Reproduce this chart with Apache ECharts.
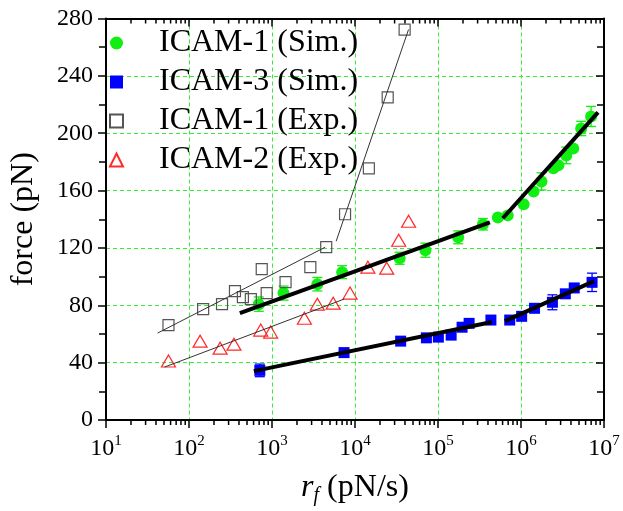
<!DOCTYPE html>
<html>
<head>
<meta charset="utf-8">
<script src="https://cdn.jsdelivr.net/npm/echarts@6/dist/echarts.min.js"></script>
<style>
html,body{margin:0;padding:0;background:#fff;}
#chart{width:623px;height:511px;}
</style>
</head>
<body>
<div id="chart"></div>
<script>
// ---- data ----
var simX1 = [693, 1377, 3515, 7000, 34500, 70500, 175000, 348000, 526000, 692000, 1076000, 1417000, 1765000, 2456000, 2818000, 3513000, 4260000, 5310000, 6990000];
var simY1 = [80.8, 88.5, 94.7, 103.1, 112.8, 118.4, 127.4, 136.5, 141.3, 142.7, 150.4, 159.4, 166.4, 175.5, 177.6, 184.5, 189.4, 203.3, 211.7];
var simE1 = [5, 4.9, 4.7, 4.5, 4.2, 4.9, 4.5, 4, 0, 0, 0, 0, 6, 0, 0, 5.8, 0, 5, 7];

var simX3 = [713, 7380, 35500, 72500, 101000, 144000, 195000, 237000, 434000, 731000, 1018000, 1456000, 2390000, 3420000, 4380000, 7180000];
var simY3 = [34.6, 47.0, 55.0, 57.3, 57.8, 59.2, 64.7, 67.4, 69.7, 69.7, 72.3, 77.9, 82.1, 88.0, 92.1, 96.0];
var simE3 = [4.4, 0, 0, 0, 0, 0, 0, 0, 0, 0, 0, 0, 5.2, 0, 0, 6.4];

var expX1 = [56.6, 148, 250, 358, 446, 556, 752, 863, 1456, 2896, 4500, 7590, 14690, 24770, 39620];
var expY1 = [66.2, 77.3, 80.8, 89.9, 85.7, 84.3, 105.2, 88.5, 96.1, 106.6, 120.5, 143.5, 175.5, 225, 272.3];

var expX2 = [56.6, 136, 237, 348, 732, 963, 2455, 3515, 5460, 8710, 14290, 24100, 33600, 44200];
var expY2 = [41.1, 55, 50.1, 52.9, 62.7, 61.3, 71, 80.8, 81.5, 88.5, 106.6, 105.9, 125.4, 138.6];

// fitted guide lines (end points)
var fitExp1aX = [41.8, 4375],   fitExp1aY = [60.6, 120.5];
var fitExp1bX = [5930, 44150],  fitExp1bY = [124.7, 272.3];
var fitExp2X  = [50.7, 7380],   fitExp2Y  = [36.9, 84.3];
var fitSim1aX = [410, 422000],  fitSim1aY = [74.5, 137.9];
var fitSim1bX = [604000, 8470000], fitSim1bY = [140.7, 214.5];
var fitSim3aX = [604, 446000],  fitSim3aY = [34.1, 68.3];
var fitSim3bX = [638000, 7590000], fitSim3bY = [69.0, 96.8];

var seriesNames = ['ICAM-1 (Sim.)', 'ICAM-3 (Sim.)', 'ICAM-1 (Exp.)', 'ICAM-2 (Exp.)'];
var yTicks = [0, 40, 80, 120, 160, 200, 240, 280];
var xDecades = [1, 2, 3, 4, 5, 6, 7];
var minorMult = [2, 3, 4, 5, 6, 7, 8, 9];

// ---- helpers ----
function zip(xs, ys) { return xs.map(function (x, i) { return [x, ys[i]]; }); }
function errData(xs, ys, es) {
  var out = [];
  xs.forEach(function (x, i) { if (es[i] > 0) out.push([x, ys[i] - es[i], ys[i] + es[i]]); });
  return out;
}
var minorTicks = [];
xDecades.slice(0, -1).forEach(function (d) {
  minorMult.forEach(function (m) { minorTicks.push([m * Math.pow(10, d), 0]); });
});

var FONT = '"Liberation Serif", "Times New Roman", serif';
var GRIDC = '#33ee33';

function errSeries(data, color) {
  return {
    type: 'custom', xAxisIndex: 0, yAxisIndex: 0, z: 4, silent: true,
    data: data,
    renderItem: function (params, api) {
      var lo = api.coord([api.value(0), api.value(1)]);
      var hi = api.coord([api.value(0), api.value(2)]);
      var w = 5;
      var st = { stroke: color, lineWidth: 1.3 };
      return { type: 'group', children: [
        { type: 'line', shape: { x1: lo[0], y1: lo[1], x2: hi[0], y2: hi[1] }, style: st },
        { type: 'line', shape: { x1: lo[0] - w, y1: lo[1], x2: lo[0] + w, y2: lo[1] }, style: st },
        { type: 'line', shape: { x1: hi[0] - w, y1: hi[1], x2: hi[0] + w, y2: hi[1] }, style: st }
      ]};
    }
  };
}
function fitSeries(xs, ys, width, color) {
  return {
    type: 'line', xAxisIndex: 0, yAxisIndex: 0, data: zip(xs, ys), symbol: 'none',
    z: 6, silent: true, lineStyle: { color: color, width: width }, animation: false
  };
}

var chart = echarts.init(document.getElementById('chart'), null, { renderer: 'canvas' });
var option = {
  animation: false,
  backgroundColor: '#fff',
  grid: { left: 102, right: 19, top: 18.5, bottom: 90 },
  legend: {
    data: seriesNames,
    orient: 'vertical',
    left: 104, top: 21,
    itemWidth: 13, itemHeight: 13, itemGap: 5,
    textStyle: { fontFamily: FONT, fontSize: 32, color: '#000', lineHeight: 34, padding: [0, 0, 0, 31] }
  },
  xAxis: [{
    type: 'log', logBase: 10, min: 10, max: 1e7, position: 'bottom',
    axisLine: { show: true, onZero: false, lineStyle: { color: '#000', width: 2 } },
    axisTick: { show: true, inside: false, length: 8, lineStyle: { color: '#000', width: 1.5 } },
    splitLine: { show: true, lineStyle: { color: GRIDC, type: [4, 3], width: 1 } },
    axisLabel: {
      margin: 14,
      formatter: function (v) { return '{b|10}{s|' + Math.round(Math.log10(v)) + '}'; },
      rich: {
        b: { fontFamily: FONT, fontSize: 24, color: '#000' },
        s: { fontFamily: FONT, fontSize: 15, color: '#000', padding: [0, 0, 14, 0] }
      }
    },
    name: '{i|r}{f|f}{n| (pN/s)}',
    nameLocation: 'middle', nameGap: 50,
    nameTextStyle: {
      rich: {
        i: { fontFamily: FONT, fontSize: 32, fontStyle: 'italic', color: '#000' },
        f: { fontFamily: FONT, fontSize: 20, fontStyle: 'italic', color: '#000', padding: [16, 0, 0, 0] },
        n: { fontFamily: FONT, fontSize: 32, color: '#000' }
      }
    }
  }, {
    type: 'log', logBase: 10, min: 10, max: 1e7, position: 'top',
    axisLine: { show: true, onZero: false, lineStyle: { color: '#000', width: 2 } },
    axisTick: { show: true, inside: true, length: 8, lineStyle: { color: '#000', width: 1.5 } },
    axisLabel: { show: false }, splitLine: { show: false }
  }],
  yAxis: [{
    type: 'value', min: 0, max: 280, interval: 40, position: 'left',
    axisLine: { show: true, onZero: false, lineStyle: { color: '#000', width: 2 } },
    axisTick: { show: true, inside: false, length: 8, lineStyle: { color: '#000', width: 1.5 } },
    minorTick: { show: true, splitNumber: 2, length: 7, lineStyle: { color: '#000', width: 1.5 } },
    splitLine: { show: true, lineStyle: { color: GRIDC, type: [4, 3], width: 1 } },
    axisLabel: { margin: 13, fontFamily: FONT, fontSize: 24, color: '#000' },
    name: 'force (pN)', nameLocation: 'middle', nameGap: 66, nameRotate: 90,
    nameTextStyle: { fontFamily: FONT, fontSize: 32, color: '#000' }
  }, {
    type: 'value', min: 0, max: 280, interval: 40, position: 'right',
    axisLine: { show: true, onZero: false, lineStyle: { color: '#000', width: 2 } },
    axisTick: { show: true, inside: true, length: 8, lineStyle: { color: '#000', width: 1.5 } },
    minorTick: { show: true, splitNumber: 2, length: 7, lineStyle: { color: '#000', width: 1.5 } },
    axisLabel: { show: false }, splitLine: { show: false }
  }],
  series: [
    {
      name: seriesNames[0], type: 'scatter', xAxisIndex: 0, yAxisIndex: 0,
      data: zip(simX1, simY1), symbol: 'circle', symbolSize: 12, z: 5,
      itemStyle: { color: '#11ee11', opacity: 1 }
    },
    {
      name: seriesNames[1], type: 'scatter', xAxisIndex: 0, yAxisIndex: 0,
      data: zip(simX3, simY3), symbol: 'rect', symbolSize: 11, z: 5,
      itemStyle: { color: '#0000ff', opacity: 1 }
    },
    {
      name: seriesNames[2], type: 'scatter', xAxisIndex: 0, yAxisIndex: 0,
      data: zip(expX1, expY1), symbol: 'rect', symbolSize: 11, z: 5,
      itemStyle: { color: 'rgba(255,255,255,0)', borderColor: '#555', borderWidth: 1.2, opacity: 1 }
    },
    {
      name: seriesNames[3], type: 'scatter', xAxisIndex: 0, yAxisIndex: 0,
      data: zip(expX2, expY2), symbol: 'triangle', symbolSize: [14, 12], z: 5,
      itemStyle: { color: 'rgba(255,255,255,0)', borderColor: '#ff2a2a', borderWidth: 1.2, opacity: 1 }
    },
    errSeries(errData(simX1, simY1, simE1), '#11ee11'),
    errSeries(errData(simX3, simY3, simE3), '#0000ff'),
    fitSeries(fitExp1aX, fitExp1aY, 1, '#333'),
    fitSeries(fitExp1bX, fitExp1bY, 1, '#333'),
    fitSeries(fitExp2X, fitExp2Y, 1, '#333'),
    fitSeries(fitSim1aX, fitSim1aY, 4, '#000'),
    fitSeries(fitSim1bX, fitSim1bY, 4, '#000'),
    fitSeries(fitSim3aX, fitSim3aY, 4, '#000'),
    fitSeries(fitSim3bX, fitSim3bY, 4, '#000'),
    {
      type: 'custom', xAxisIndex: 0, yAxisIndex: 0, silent: true, clip: false, z: 10,
      data: minorTicks,
      renderItem: function (params, api) {
        var p = api.coord([api.value(0), 0]);
        var cs = params.coordSys;
        var bottom = cs.y + cs.height, top = cs.y;
        var st = { stroke: '#000', lineWidth: 1.5 };
        return { type: 'group', children: [
          { type: 'line', shape: { x1: p[0], y1: bottom, x2: p[0], y2: bottom + 5 }, style: st },
          { type: 'line', shape: { x1: p[0], y1: top, x2: p[0], y2: top + 5 }, style: st }
        ]};
      }
    }
  ]
};
chart.setOption(option);
</script>
</body>
</html>
